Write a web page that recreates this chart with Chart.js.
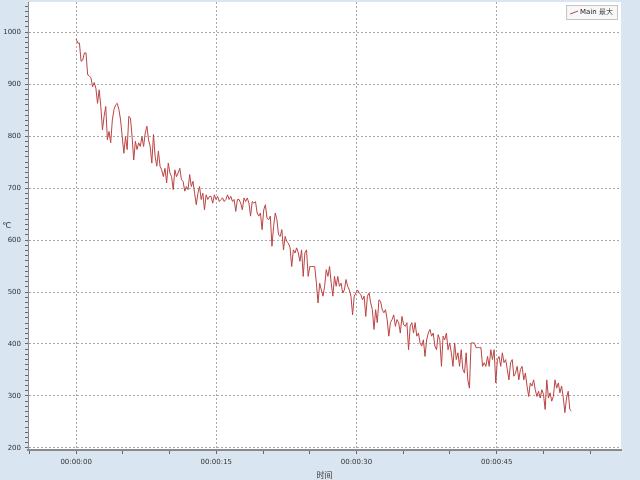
<!DOCTYPE html>
<html>
<head>
<meta charset="utf-8">
<script src="https://cdn.jsdelivr.net/npm/chart.js@4.4.0/dist/chart.umd.min.js"></script>
<style>
  html, body { margin:0; padding:0; background:#dae5f2; }
  #chart { display:block; }
</style>
</head>
<body>
<canvas id="chart" width="640" height="480"></canvas>
<script>
// series + labels
var seriesName = "Main 最大";
var xTitle = "时间";
var yUnit = "℃";
var lastSampleSec = 53;   // time of the last sample, seconds
var timeLabels = [0, 15, 30, 45];
var tempLabels = [200, 300, 400, 500, 600, 700, 800, 900, 1000];
var tempValues = [
  987, 979, 979, 944, 946, 960, 960, 918, 916, 912, 895, 903, 892, 863, 889, 857, 812, 838, 857, 793,
  809, 787, 831, 851, 860, 863, 851, 831, 799, 767, 799, 774, 838, 835, 799, 754, 790, 774, 787, 780,
  799, 780, 806, 819, 793, 780, 748, 803, 761, 742, 771, 742, 735, 722, 738, 710, 748, 729, 722, 697,
  735, 722, 729, 738, 716, 713, 694, 703, 697, 726, 703, 713, 690, 668, 690, 703, 678, 690, 658, 687,
  678, 684, 684, 671, 687, 678, 684, 674, 678, 681, 674, 678, 687, 678, 684, 674, 678, 655, 678, 678,
  671, 658, 681, 674, 681, 671, 646, 674, 671, 674, 652, 646, 652, 620, 658, 668, 642, 639, 646, 588,
  626, 652, 639, 610, 607, 620, 581, 607, 597, 594, 585, 549, 581, 575, 585, 575, 559, 581, 530, 575,
  581, 530, 549, 549, 549, 549, 517, 479, 517, 504, 492, 511, 543, 530, 549, 517, 492, 530, 511, 530,
  511, 517, 498, 504, 524, 511, 504, 492, 456, 492, 498, 504, 498, 495, 485, 492, 453, 492, 498, 479,
  466, 428, 466, 441, 485, 482, 466, 460, 466, 447, 415, 441, 447, 456, 434, 447, 441, 421, 453, 437,
  434, 441, 389, 434, 441, 421, 441, 415, 421, 402, 396, 408, 376, 408, 421, 428, 415, 421, 396, 389,
  418, 408, 357, 415, 408, 421, 389, 402, 383, 357, 402, 370, 383, 357, 389, 351, 344, 383, 331, 315,
  402, 402, 402, 393, 393, 393, 393, 357, 364, 357, 376, 357, 389, 370, 389, 325, 370, 376, 357, 383,
  364, 370, 351, 331, 364, 370, 338, 344, 357, 331, 351, 357, 331, 344, 319, 299, 325, 319, 331, 312,
  299, 309, 296, 312, 303, 274, 331, 296, 306, 290, 299, 331, 315, 325, 306, 319, 297, 268, 296, 309,
  274, 271
];

var lineColor = "#bc4444";

function hms(s){
  var ss = s < 10 ? "0" + s : "" + s;
  return "00:00:" + ss;
}

var step = lastSampleSec / (tempValues.length - 1);
var points = tempValues.map(function(v, i){ return {x: i * step, y: v}; });

var bgPlugin = {
  id: "bg",
  beforeDraw: function(chart){
    var c = chart.ctx, a = chart.chartArea;
    c.save();
    c.fillStyle = "#dae5f2";
    c.fillRect(0, 0, chart.width, chart.height);
    c.fillStyle = "#ffffff";
    c.fillRect(a.left, a.top, a.right - a.left, a.bottom - a.top + 1);
    c.restore();
  },
  afterDraw: function(chart){
    var c = chart.ctx, a = chart.chartArea;
    c.save();
    // y unit, upright
    c.fillStyle = "#333";
    c.font = "8px 'DejaVu Sans'";
    c.textAlign = "left";
    c.textBaseline = "middle";
    c.fillText(yUnit, 2, 226);
    // legend box top-right
    c.font = "7px 'DejaVu Sans'";
    var tw = c.measureText(seriesName).width;
    var w = tw + 18, h = 14;
    var x = a.right - w - 4, y = 5;
    c.fillStyle = "#f7f7f7";
    c.fillRect(x + 0.5, y + 0.5, w, h);
    c.strokeStyle = "#c4c4c4";
    c.lineWidth = 1;
    c.strokeRect(x + 0.5, y + 0.5, w, h);
    c.strokeStyle = lineColor;
    c.beginPath();
    c.moveTo(x + 4, y + 9);
    c.lineTo(x + 12, y + 6);
    c.stroke();
    c.fillStyle = "#222";
    c.fillText(seriesName, x + 14, y + 7.5);
    c.restore();
  }
};

var canvas = document.getElementById("chart").getContext("2d");
window.line = new Chart(canvas, {
  type: "line",
  data: {
    datasets: [{
      label: seriesName,
      data: points,
      borderColor: lineColor,
      backgroundColor: lineColor,
      borderWidth: 1,
      pointRadius: 0,
      tension: 0,
      fill: false
    }]
  },
  options: {
    responsive: false,
    animation: false,
    layout: { padding: { top: 2, right: 19, left: 0, bottom: 0 } },
    plugins: {
      legend: { display: false },
      tooltip: { enabled: false }
    },
    scales: {
      x: {
        type: "linear",
        min: -5.15,
        max: 58.3,
        afterBuildTicks: function(s){
          var t = [];
          for (var v = -5; v <= 55; v += 5) t.push({value: v});
          s.ticks = t;
        },
        ticks: {
          autoSkip: false,
          maxRotation: 0,
          color: "#333",
          padding: 4,
          font: { size: 7, family: "'DejaVu Sans'" },
          callback: function(v){ return timeLabels.indexOf(v) >= 0 ? hms(v) : ""; }
        },
        grid: {
          color: function(ctx){ return ctx.tick && timeLabels.indexOf(ctx.tick.value) >= 0 ? "#a8a8a8" : "rgba(0,0,0,0)"; },
          tickColor: "#666",
          tickLength: 4
        },
        border: { color: "#8a8a8a", width: 2, dash: [2, 2] },
        title: { display: true, text: xTitle, color: "#333", padding: 0, font: { size: 8, family: "'Noto Sans CJK SC'" } },
        afterFit: function(s){ s.height = 30; s.paddingLeft = 0; s.paddingRight = 0; }
      },
      y: {
        min: 196,
        max: 1058,
        afterBuildTicks: function(s){
          var t = [];
          for (var v = 200; v <= 1050; v += 10) t.push({value: v});
          s.ticks = t;
        },
        ticks: {
          autoSkip: false,
          color: "#333",
          padding: 4,
          font: { size: 7, family: "'DejaVu Sans'" },
          callback: function(v){ return tempLabels.indexOf(v) >= 0 ? "" + v : ""; }
        },
        grid: {
          color: function(ctx){ return ctx.tick && tempLabels.indexOf(ctx.tick.value) >= 0 ? "#a8a8a8" : "rgba(0,0,0,0)"; },
          tickColor: "#666",
          tickLength: 3
        },
        border: { color: "#8a8a8a", width: 1, dash: [2, 2] },
        afterFit: function(s){ s.width = 28; s.paddingTop = 0; s.paddingBottom = 0; }
      }
    }
  },
  plugins: [bgPlugin]
});
</script>
</body>
</html>
